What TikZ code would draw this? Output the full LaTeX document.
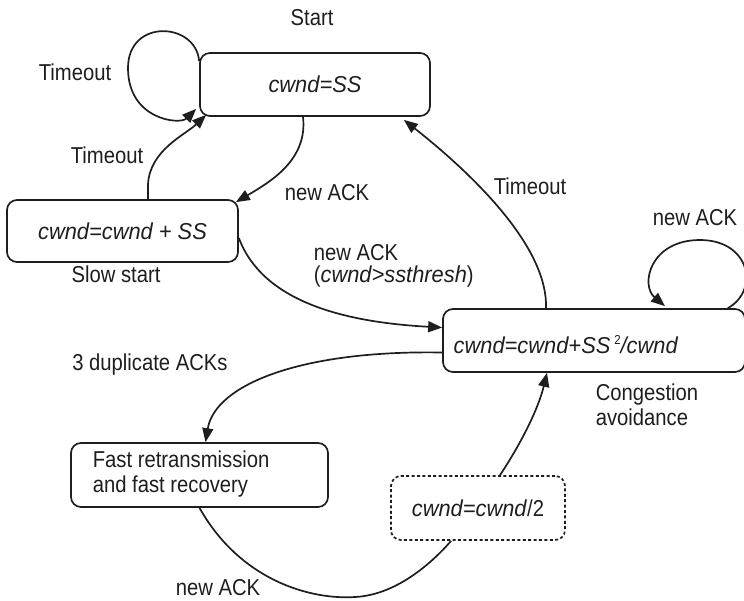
\documentclass[tikz,border=0pt]{standalone}
\usepackage{fontspec}
\setmainfont{Liberation Sans}[FakeStretch=0.88, ItalicFeatures={FakeStretch=0.95}]
\usetikzlibrary{arrows.meta,calc}
\definecolor{ink}{HTML}{1E1E1E}
\begin{document}
\begin{tikzpicture}[x=1pt,y=-1pt,
  color=ink, line width=1.7pt,
  font=\fontsize{23}{25}\selectfont,
  >={Triangle[length=14pt,width=11pt]},
  state/.style={draw, rounded corners=10pt, inner sep=0pt, minimum height=63pt},
  halfstate/.style={state, dash pattern=on 3pt off 2.4pt},
  lbl/.style={inner sep=0pt, align=left},
  trans/.style={->},
]
\useasboundingbox (0,0) rectangle (744,600);

% states
\node[state, minimum width=230pt] (start) at (315,84.5) {\textit{cwnd=SS}};
\node[state, minimum width=231pt, minimum height=62pt] (slow) at (122.5,231) {\textit{cwnd=cwnd + SS}};
\node[state, minimum width=302pt] (cong) at (594,340.5) {};
\node[lbl] (congtext) at (566,345) {\textit{cwnd=cwnd+SS}\,\raisebox{9pt}{\fontsize{13}{13}\selectfont 2}\textit{/cwnd}};
\node[state, minimum width=257pt, minimum height=64pt] (fast) at (199.5,475) {};
\node[lbl, anchor=west] (fasttext) at (92,474.5) {Fast retransmission\\and fast recovery};
\node[halfstate, minimum width=174pt, minimum height=64pt] (half) at (478,508) {\textit{cwnd=cwnd}/2};

% state captions
\node[lbl] (startcap) at (312,18) {Start};
\node[lbl] (slowcap) at (116,274) {Slow start};
\node[lbl, anchor=west] (congcap) at (595,404.5) {Congestion\\avoidance};

% transition labels
\node[lbl] (tout1) at (75,72) {Timeout};
\node[lbl] (tout2) at (107,155) {Timeout};
\node[lbl] (ack1) at (327,193) {new ACK};
\node[lbl, anchor=west, font=\fontsize{23}{22}\selectfont] (ack2) at (313,266) {new ACK\\(\textit{cwnd>ssthresh})};
\node[lbl] (tout3) at (530,186) {Timeout};
\node[lbl] (ack3) at (695,218) {new ACK};
\node[lbl] (dup) at (150,365) {3 duplicate ACKs};
\node[lbl] (ack4) at (218,588) {new ACK};

% transitions
\draw[trans] ($(start.north west)+(0,9)$) .. controls (196,22) and (128,18) .. (128,68)
  .. controls (128,120) and (180,125) .. ($(start.south west)+(-3,-8)$);
\draw[trans] ($(slow.north)+(25.5,0)$) -- ++(0,-15)
  .. controls (150,150) and (185,135) .. ($(start.south west)+(7,-2)$);
\draw[trans] ($(start.south)+(-12,0)$) .. controls (308,160) and (270,182) .. ($(slow.north east)+(-3,3)$);
\draw[trans] ($(slow.east)+(0,7)$) .. controls (262,300) and (340,322) .. ($(cong.west)+(0,-13)$);
\draw[trans] ($(cong.north)+(-48,0)$) .. controls (548,250) and (480,180) .. ($(start.south east)+(-27,3)$);
\draw[trans] ($(cong.north east)+(-18,0)$) .. controls (760,290) and (750,240) .. (700,240)
  .. controls (650,240) and (640,285) .. ($(cong.north)+(71,-2)$);
\draw[trans] ($(cong.west)+(0,12)$) .. controls (300,350) and (215,385) .. ($(fast.north)+(6,0)$);
\draw ($(fast.south)$) .. controls (240,580) and (310,600) .. (355,597)
  .. controls (395,595) and (430,565) .. ($(half.south west)+(61,0)$);
\draw[trans] ($(half.north)+(22,0)$) .. controls (520,445) and (538,410) .. ($(cong.south)+(-47,0)$);
\end{tikzpicture}
\end{document}
